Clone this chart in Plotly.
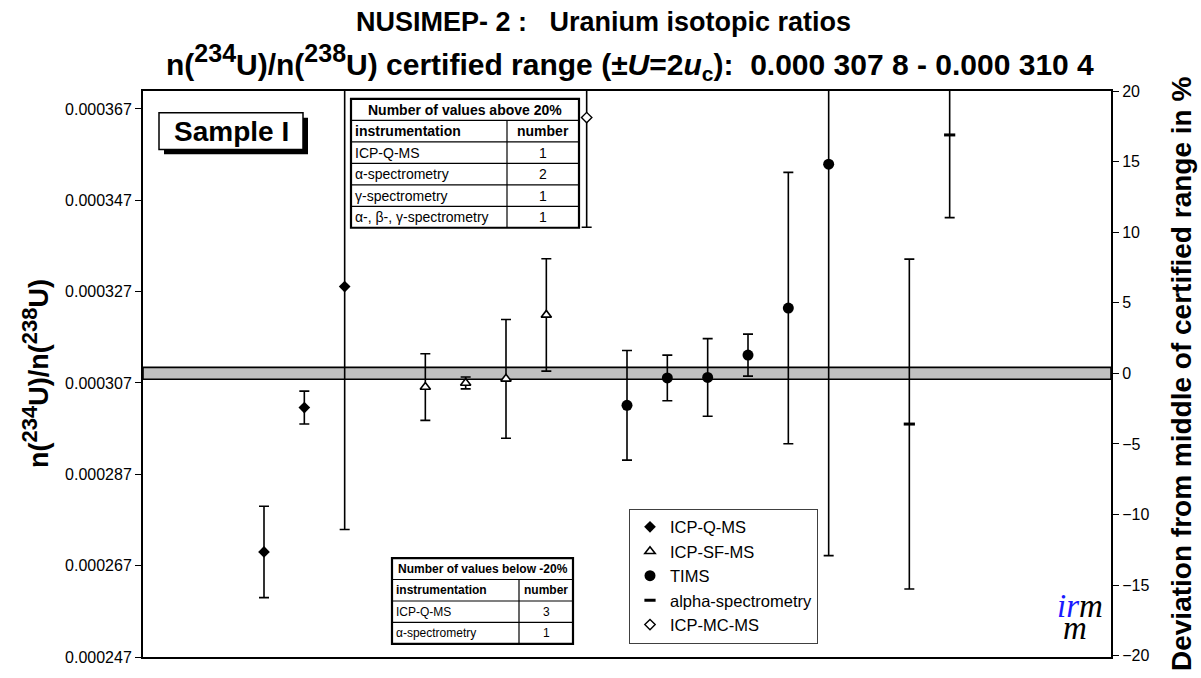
import plotly.graph_objects as go

# ---- certified range ----
cert_low = 0.0003078
cert_high = 0.0003104
cert_mid = (cert_low + cert_high) / 2

# ---- participant results (x = lab position, y = ratio, err = expanded uncertainty) ----
icpq_x = [3, 4, 5]
icpq_y = [0.0002700, 0.0003016, 0.0003281]
icpq_err = [0.0000100, 0.0000036, 0.0000532]

icpsf_x = [7, 8, 9, 10]
icpsf_y = [0.0003061, 0.0003070, 0.0003079, 0.0003219]
icpsf_err = [0.0000073, 0.0000013, 0.0000130, 0.0000123]

tims_x = [12, 13, 14, 15, 16, 17]
tims_y = [0.0003021, 0.0003081, 0.0003082, 0.0003131, 0.0003234, 0.0003549]
tims_err = [0.0000120, 0.0000050, 0.0000085, 0.0000046, 0.0000297, 0.0000857]

alpha_x = [19, 20]
alpha_y = [0.0002980, 0.0003613]
alpha_err = [0.0000361, 0.0000181]

mcms_x = [11]
mcms_y = [0.0003651]
mcms_err = [0.0000240]

# ---- axis ticks ----
left_ticks = [0.000247, 0.000267, 0.000287, 0.000307, 0.000327, 0.000347, 0.000367]
left_ticktext = ["0.000247", "0.000267", "0.000287", "0.000307", "0.000327", "0.000347", "0.000367"]
right_ticks = [-20, -15, -10, -5, 0, 5, 10, 15, 20]

# ---- inset tables ----
above_title = "Number of values above 20%"
above_instr = ["ICP-Q-MS", "α-spectrometry", "γ-spectrometry", "α-, β-, γ-spectrometry"]
above_count = ["1", "2", "1", "1"]
below_title = "Number of values below -20%"
below_instr = ["ICP-Q-MS", "α-spectrometry"]
below_count = ["3", "1"]

FONT = "Arial, 'Liberation Sans', sans-serif"
SERIF = "'Liberation Serif', 'DejaVu Serif', serif"
W_FIG, H_FIG = 1201, 678
L, R, T, B = 143, 1111, 91, 663
PW, PH = R - L, B - T

y_lo = 0.000247
y_hi = cert_mid * 1.2
r_lo = (y_lo / cert_mid - 1) * 100
r_hi = (y_hi / cert_mid - 1) * 100


def px(x):
    return (x - L) / PW


def py(y):
    return (B - y) / PH


def err(vals):
    return dict(type="data", array=vals, visible=True, color="black",
                thickness=1.6, width=5)


def sup(s, size):
    return "<sup><span style='font-size:%dpx'>%s</span></sup>" % (size, s)


fig = go.Figure()
fig.add_trace(go.Scatter(
    x=icpq_x, y=icpq_y, mode="markers", name="ICP-Q-MS", error_y=err(icpq_err),
    marker=dict(symbol="diamond", size=9, color="black")))
fig.add_trace(go.Scatter(
    x=icpsf_x, y=icpsf_y, mode="markers", name="ICP-SF-MS", error_y=err(icpsf_err),
    marker=dict(symbol="triangle-up", size=9, color="white",
                line=dict(color="black", width=1.6))))
fig.add_trace(go.Scatter(
    x=tims_x, y=tims_y, mode="markers", name="TIMS", error_y=err(tims_err),
    marker=dict(symbol="circle", size=11, color="black")))
fig.add_trace(go.Scatter(
    x=alpha_x, y=alpha_y, mode="markers", name="alpha-spectrometry", error_y=err(alpha_err),
    marker=dict(symbol="line-ew", size=8, color="black",
                line=dict(color="black", width=3))))
fig.add_trace(go.Scatter(
    x=mcms_x, y=mcms_y, mode="markers", name="ICP-MC-MS", error_y=err(mcms_err),
    marker=dict(symbol="diamond", size=8, color="white",
                line=dict(color="black", width=1.4))))
# secondary axis carrier (deviation in %)
fig.add_trace(go.Scatter(x=[None], y=[None], yaxis="y2", showlegend=False,
                         hoverinfo="skip"))

shapes = []
# certified range band
shapes.append(dict(type="rect", xref="x", yref="y", x0=0, x1=24,
                   y0=cert_low, y1=cert_high, fillcolor="#c0c0c0",
                   line=dict(color="black", width=1.6), layer="below"))

annotations = []


def note(x, y, text, size, family=FONT, **kw):
    d = dict(xref="paper", yref="paper", x=px(x), y=py(y), text=text,
             showarrow=False, xanchor="center", yanchor="middle",
             font=dict(family=family, size=size, color="black"))
    d.update(kw)
    annotations.append(d)


# titles
note(603, 21, "<b>NUSIMEP- 2 :\u00a0\u00a0 Uranium isotopic ratios</b>", 27)
note(630, 62, "<b>n(" + sup("234", 25) + "U)/n(" + sup("238", 25)
     + "U) certified range (±<i>U</i>=2<i>u</i><sub>c</sub>):\u00a0 0.000 307 8 - 0.000 310 4</b>", 30)
# axis titles
note(35, 377, "<b>n(" + sup("234", 22) + "U)/n(" + sup("238", 22) + "U)</b>", 27, textangle=-90)
note(1181, 377, "<b>Deviation from middle of certified range in %</b>", 28, textangle=-90)

# sample label box with drop shadow
shapes.append(dict(type="rect", xref="paper", yref="paper",
                   x0=px(164), x1=px(308), y0=py(155), y1=py(118),
                   fillcolor="black", line=dict(width=0)))
shapes.append(dict(type="rect", xref="paper", yref="paper",
                   x0=px(159), x1=px(303), y0=py(150), y1=py(113),
                   fillcolor="white", line=dict(color="black", width=1.5)))
note(231, 132, "<b>Sample I</b>", 28)


def add_table(x0, x1, xsplit, top, row_h, title, instr, counts, fs):
    n_rows = 2 + len(instr)
    bottom = top + row_h * n_rows
    shapes.append(dict(type="rect", xref="paper", yref="paper",
                       x0=px(x0), x1=px(x1), y0=py(bottom), y1=py(top),
                       fillcolor="white", line=dict(color="black", width=2.2)))
    for i in range(1, n_rows):
        yy = top + row_h * i
        shapes.append(dict(type="line", xref="paper", yref="paper",
                           x0=px(x0), x1=px(x1), y0=py(yy), y1=py(yy),
                           line=dict(color="black", width=1.2)))
    shapes.append(dict(type="line", xref="paper", yref="paper",
                       x0=px(xsplit), x1=px(xsplit), y0=py(top + row_h), y1=py(bottom),
                       line=dict(color="black", width=1.2)))
    note((x0 + x1) / 2, top + row_h / 2, "<b>" + title + "</b>", fs)
    rows = [("<b>instrumentation</b>", "<b>number</b>")] + list(zip(instr, counts))
    for i, (a, b) in enumerate(rows):
        yc = top + row_h * (i + 1.5)
        note(x0 + 2, yc, a, fs, xanchor="left")
        note((xsplit + x1) / 2, yc, b, fs)


add_table(351, 579, 507, 99, 21.7, above_title, above_instr, above_count, 14)
add_table(392, 573, 519, 563, 21.7, below_title, below_instr, below_count, 12)

# institute logo
note(1080, 611, "<i><span style='color:#1a1aff'>ir</span>m</i>", 33, family=SERIF)
note(1075, 634, "<i>m</i>", 33, family=SERIF)

fig.update_layout(
    width=W_FIG, height=H_FIG,
    margin=dict(l=L, r=W_FIG - R, t=T, b=H_FIG - B, pad=0),
    paper_bgcolor="white", plot_bgcolor="white",
    font=dict(family=FONT, size=16, color="black"),
    showlegend=True,
    legend=dict(x=px(629), y=py(513), xanchor="left", yanchor="top",
                bgcolor="white", bordercolor="#404040", borderwidth=1,
                font=dict(family=FONT, size=16.5, color="black"),
                itemwidth=30, tracegroupgap=0),
    xaxis=dict(range=[0, 24], showgrid=False, zeroline=False, showticklabels=False,
               ticks="", showline=True, linecolor="black", linewidth=2, mirror=True),
    yaxis=dict(range=[y_lo, y_hi], tickvals=left_ticks, ticktext=left_ticktext,
               showgrid=False, zeroline=False, ticks="outside", ticklen=6,
               tickwidth=1, tickcolor="black", showline=True, linecolor="black",
               linewidth=2, tickfont=dict(size=16, family=FONT, color="black")),
    yaxis2=dict(range=[r_lo, r_hi], tickvals=right_ticks, overlaying="y", side="right",
                anchor="x", showgrid=False, zeroline=False, ticks="outside", ticklen=6,
                tickwidth=1, tickcolor="black", showline=True, linecolor="black",
                linewidth=2, tickfont=dict(size=16, family=FONT, color="black")),
    shapes=shapes,
    annotations=annotations,
)

fig.write_html("out.html")
